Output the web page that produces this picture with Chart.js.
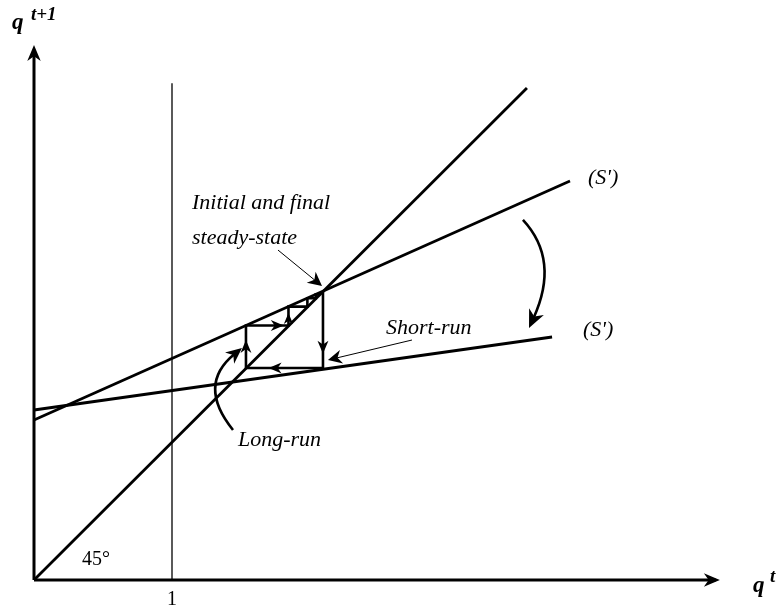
<!DOCTYPE html>
<html><head><meta charset="utf-8">
<style>html,body{margin:0;padding:0;background:#fff}#wrap{width:782px;height:609px;position:relative}</style>
<script src="https://cdn.jsdelivr.net/npm/chart.js@4.4.1/dist/chart.umd.min.js"></script>
</head><body><div id="wrap"><canvas id="c" width="782" height="609"></canvas></div>
<script>
// ---- data (in diagram units, "1" on the q^t axis = one unit) ----
const xAxisPts = [[0, 0], [4.94, 0]];
const yAxisPts = [[0, 0], [0, 3.84]];
const unitLinePts = [[1, 0], [1, 3.60]];
const line45Pts = [[0, 0], [3.572, 3.565]];
const sUpperPts = [[0, 1.159], [3.884, 2.891]];
const sLowerPts = [[0, 1.232], [3.754, 1.761]];
const cobwebPts = [[2.094, 2.094], [2.094, 1.536], [1.536, 1.536], [1.536, 1.844], [1.844, 1.844],
                   [1.844, 1.981], [1.981, 1.981], [1.981, 2.042], [2.042, 2.042], [2.042, 2.070], [2.070, 2.070]];
const tickLabels = ["1"];
const tickValues = [1];

const toXY = a => a.map(p => ({x: p[0], y: p[1]}));

function lineDs(pts, w) {
  return {data: toXY(pts), showLine: true, borderColor: '#000', borderWidth: w,
          pointRadius: 0, fill: false, clip: false, tension: 0, borderCapStyle: 'butt', borderJoinStyle: 'miter'};
}

// ---- annotation layout ----
const arrowHeads = [ // [x, y, dx, dy, size]
  [4.97, 0, 1, 0, 16], [0, 3.877, 0, 1, 16],
  [2.094, 1.64, 0, -1, 13], [1.70, 1.536, -1, 0, 13], [1.536, 1.74, 0, 1, 13],
  [1.81, 1.844, 1, 0, 13], [1.844, 1.935, 0, 1, 11]
];
const curves = [ // p0, control, p2, width
  {p0: [3.543, 2.609], c: [3.812, 2.319], p2: [3.587, 1.826], w: 2.6, head: 18},
  {p0: [1.442, 1.087], c: [1.178, 1.413], p2: [1.507, 1.681], w: 2.6, head: 16}
];
const pointers = [
  {p0: [2.739, 1.739], p2: [2.130, 1.594]},
  {p0: [1.768, 2.391], p2: [2.087, 2.130]}
];
const LBL = 'italic 22px "Liberation Serif"';
const texts = [
  ["Initial and final", 1.145, 2.732, 'left', LBL],
  ["steady-state", 1.145, 2.478, 'left', LBL],
  ["Short-run", 2.551, 1.826, 'left', LBL],
  ["Long-run", 1.478, 1.014, 'left', LBL],
  ["(S')", 4.014, 2.913, 'left', LBL],
  ["(S')", 3.978, 1.812, 'left', LBL],
  ["45°", 0.348, 0.145, 'left', '20px "Liberation Serif"']
];

function fillHead(ctx, tx, ty, ang, len, half) {
  ctx.save();
  ctx.translate(tx, ty); ctx.rotate(ang);
  ctx.beginPath();
  ctx.moveTo(0, 0);
  ctx.lineTo(-len, -half);
  ctx.lineTo(-len * 0.7, 0);
  ctx.lineTo(-len, half);
  ctx.closePath();
  ctx.fillStyle = '#000'; ctx.fill();
  ctx.restore();
}

const decor = {
  id: 'decor',
  afterDatasetsDraw(chart) {
    const ctx = chart.ctx, xs = chart.scales.x, ys = chart.scales.y;
    const X = v => xs.getPixelForValue(v), Y = v => ys.getPixelForValue(v);
    ctx.save();
    arrowHeads.forEach(a => {
      const ang = Math.atan2(-a[3], a[2]);
      const len = a[4];
      fillHead(ctx, X(a[0]), Y(a[1]), ang, len, len * 0.42);
    });
    curves.forEach(cv => {
      const x0 = X(cv.p0[0]), y0 = Y(cv.p0[1]), cx = X(cv.c[0]), cy = Y(cv.c[1]), x2 = X(cv.p2[0]), y2 = Y(cv.p2[1]);
      const ang = Math.atan2(y2 - cy, x2 - cx);
      ctx.beginPath(); ctx.moveTo(x0, y0);
      ctx.quadraticCurveTo(cx, cy, x2 - Math.cos(ang) * cv.head * 0.6, y2 - Math.sin(ang) * cv.head * 0.6);
      ctx.lineWidth = cv.w; ctx.strokeStyle = '#000'; ctx.stroke();
      fillHead(ctx, x2, y2, ang, cv.head, cv.head * 0.45);
    });
    pointers.forEach(p => {
      const x0 = X(p.p0[0]), y0 = Y(p.p0[1]), x2 = X(p.p2[0]), y2 = Y(p.p2[1]);
      const ang = Math.atan2(y2 - y0, x2 - x0);
      ctx.beginPath(); ctx.moveTo(x0, y0); ctx.lineTo(x2 - Math.cos(ang) * 8, y2 - Math.sin(ang) * 8);
      ctx.lineWidth = 1; ctx.strokeStyle = '#000'; ctx.stroke();
      fillHead(ctx, x2, y2, ang, 14, 7);
    });
    ctx.fillStyle = '#000'; ctx.textBaseline = 'middle';
    texts.forEach(t => { ctx.font = t[4]; ctx.textAlign = t[3]; ctx.fillText(t[0], X(t[1]), Y(t[2])); });
    ctx.font = '20px "Liberation Serif"'; ctx.textAlign = 'center';
    tickValues.forEach((v, i) => ctx.fillText(tickLabels[i], X(v), Y(0) + 20));
    ctx.textAlign = 'left';
    ctx.font = 'bold italic 23px "Liberation Serif"';
    ctx.fillText('q', X(0) - 22, Y(3.877) - 22);
    ctx.font = 'bold italic 19px "Liberation Serif"';
    ctx.fillText('t+1', X(0) - 3, Y(3.877) - 30);
    ctx.font = 'bold italic 23px "Liberation Serif"';
    ctx.fillText('q', X(4.971) + 33, Y(0) + 6);
    ctx.font = 'bold italic 19px "Liberation Serif"';
    ctx.fillText('t', X(4.971) + 50, Y(0) - 3);
    ctx.restore();
  }
};

new Chart(document.getElementById('c'), {
  type: 'scatter',
  data: {datasets: [
    lineDs(xAxisPts, 3), lineDs(yAxisPts, 3), lineDs(unitLinePts, 1.3),
    lineDs(line45Pts, 2.8), lineDs(sUpperPts, 2.8), lineDs(sLowerPts, 2.8), lineDs(cobwebPts, 2.6)
  ]},
  options: {
    responsive: false, animation: false, devicePixelRatio: 1,
    layout: {padding: {left: 34, right: 62, top: 45, bottom: 29}},
    plugins: {legend: {display: false}, tooltip: {enabled: false}},
    scales: {
      x: {type: 'linear', min: 0, max: 4.971, display: false},
      y: {type: 'linear', min: 0, max: 3.877, display: false}
    }
  },
  plugins: [decor]
});
</script></body></html>
